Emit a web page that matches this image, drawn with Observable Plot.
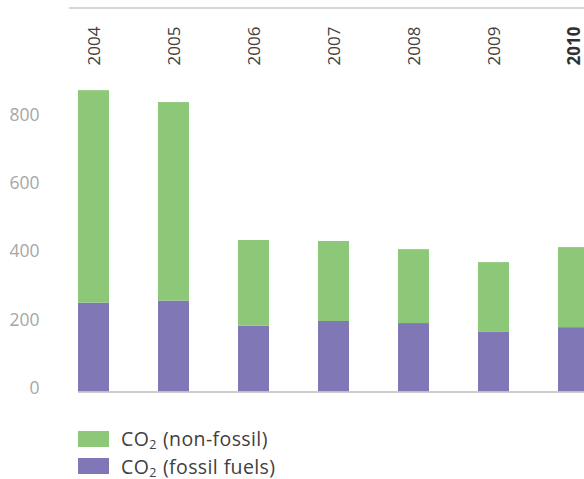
<!DOCTYPE html>
<html>
<head>
<meta charset="utf-8">
<script src="https://cdn.jsdelivr.net/npm/d3@7"></script>
<script src="https://cdn.jsdelivr.net/npm/@observablehq/plot@0.6"></script>
<style>
  html, body { margin: 0; background: #fff; font-family: "Open Sans", sans-serif; }
  body { height: 479px; overflow: hidden; }
  #chart svg { display: block; }
  #legend { padding-left: 78px; margin-top: 15px; }
  .row { display: flex; align-items: center; height: 27.5px; }
  .sw { width: 31px; height: 16px; margin-right: 12px; flex: none; }
  .lab { font-size: 19.5px; letter-spacing: 0.4px; color: #404040; line-height: 1.2; white-space: nowrap; }
  .lab .sub { font-size: 12.5px; position: relative; top: 3px; letter-spacing: 0; margin-right: 1px; line-height: 1; }
</style>
</head>
<body>
<div id="chart"></div>
<div id="legend"></div>
<script>
const years = ["2004", "2005", "2006", "2007", "2008", "2009", "2010"];
const fossil = [261, 267, 193, 207, 201, 175, 189];
const nonFossil = [624, 583, 252, 235, 217, 205, 235];
const yTicks = [0, 200, 400, 600, 800];
const seriesNames = ["CO₂ (fossil fuels)", "CO₂ (non-fossil)"];
const seriesColors = ["#7f77b6", "#8cc877"];
const boldYear = "2010";

const rows = years.flatMap((yr, i) => [
  {year: yr, series: seriesNames[0], value: fossil[i]},
  {year: yr, series: seriesNames[1], value: nonFossil[i]}
]);

const chart = Plot.plot({
  width: 584,
  height: 410,
  marginTop: 7.5,
  marginLeft: 69,
  marginRight: 0,
  marginBottom: 18,
  style: {fontFamily: "Open Sans, sans-serif", background: "#fff"},
  x: {type: "band", domain: years, range: [53.5, 613.5], paddingInner: 0.6125, paddingOuter: 0.30625, axis: null},
  y: {domain: [0, 900], range: [391.5, 85.05], axis: null},
  color: {domain: seriesNames, range: seriesColors},
  marks: [
    Plot.frame({anchor: "top", stroke: "#c8c8c8", strokeWidth: 1.5}),
    Plot.barY(rows, {x: "year", y: "value", fill: "series"}),
    Plot.ruleY([0], {stroke: "#bdbdbd", strokeWidth: 1.5, insetLeft: 9}),
    Plot.axisY(yTicks, {tickSize: 0, tickPadding: 30, fill: "#a6a6a6", fontSize: 17.5, dy: -4, label: null}),
    Plot.text(years.filter(d => d !== boldYear), {x: d => d, frameAnchor: "top", dx: -6, dy: 57.5, rotate: -90, textAnchor: "start", fontSize: 17, fill: "#404040"}),
    Plot.text([boldYear], {x: d => d, frameAnchor: "top", dx: -6, dy: 57.5, rotate: -90, textAnchor: "start", fontSize: 17, fontWeight: "bold", fill: "#303030"})
  ]
});
document.getElementById("chart").appendChild(chart);

const legend = document.getElementById("legend");
[1, 0].forEach(i => {
  const row = document.createElement("div");
  row.className = "row";
  const sw = document.createElement("div");
  sw.className = "sw";
  sw.style.background = seriesColors[i];
  const lab = document.createElement("div");
  lab.className = "lab";
  const parts = seriesNames[i].split("₂");
  lab.append(parts[0]);
  const sub = document.createElement("span");
  sub.className = "sub";
  sub.textContent = "2";
  lab.append(sub, parts[1]);
  row.append(sw, lab);
  legend.append(row);
});
</script>
</body>
</html>
